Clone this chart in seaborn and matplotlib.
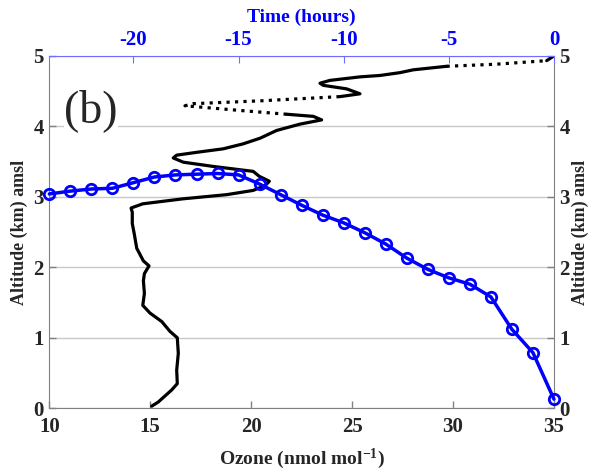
import matplotlib
matplotlib.use('Agg')
import matplotlib.pyplot as plt
import seaborn as sns

sns.set_style('white')
plt.rcParams['font.family'] = ['Liberation Serif', 'DejaVu Serif']
plt.rcParams['font.weight'] = 'bold'
plt.rcParams['axes.unicode_minus'] = False
plt.rcParams['mathtext.fontset'] = 'custom'
plt.rcParams['mathtext.rm'] = 'Liberation Serif:bold'
plt.rcParams['mathtext.it'] = 'Liberation Serif:bold'
plt.rcParams['mathtext.bf'] = 'Liberation Serif:bold'

# ozone profile (black), bottom to top
ozone = [15.07, 15.40, 16.06, 16.34, 16.31, 16.39, 16.34, 15.98, 15.57, 14.99,
         14.63, 14.71, 14.66, 14.71, 14.94, 14.66, 14.33, 14.21, 14.11, 14.11,
         14.05, 14.63, 16.60, 18.79, 20.10, 20.70, 20.90, 20.40, 20.10, 18.12,
         16.64, 16.14, 16.31, 17.30, 18.62, 19.60, 20.44, 21.26, 22.42, 23.49,
         23.08, 21.76, 19.61, 17.96, 16.72, 17.13, 20.44, 24.40, 25.39, 24.73,
         23.57, 23.41, 23.90, 25.39, 26.38, 27.37, 28.03, 29.68, 32.16, 34.64,
         34.96]
altitude = [0.03, 0.09, 0.26, 0.35, 0.54, 0.78, 1.00, 1.09, 1.23, 1.35,
            1.46, 1.63, 1.81, 1.91, 2.02, 2.09, 2.27, 2.47, 2.62, 2.78,
            2.84, 2.90, 2.97, 3.03, 3.09, 3.16, 3.22, 3.29, 3.36, 3.43,
            3.49, 3.55, 3.59, 3.63, 3.68, 3.75, 3.83, 3.94, 4.03, 4.09,
            4.14, 4.17, 4.22, 4.26, 4.29, 4.32, 4.36, 4.42, 4.46, 4.53,
            4.58, 4.61, 4.65, 4.70, 4.72, 4.76, 4.80, 4.85, 4.88, 4.93,
            4.99]
# (start, end, linestyle) pieces of the profile
pieces = [(0, 41, '-'), (41, 47, ':'), (47, 57, '-'), (57, 59, ':'), (59, 60, '-')]

# blue: hourly altitude vs time
time_h = [-24, -23, -22, -21, -20, -19, -18, -17, -16, -15, -14, -13, -12,
          -11, -10, -9, -8, -7, -6, -5, -4, -3, -2, -1, 0]
alt_time = [3.04, 3.08, 3.11, 3.12, 3.20, 3.28, 3.31, 3.32, 3.33, 3.31, 3.18,
            3.03, 2.88, 2.74, 2.63, 2.49, 2.33, 2.13, 1.97, 1.85, 1.76, 1.58,
            1.12, 0.79, 0.13]

ozone_ticks = [10, 15, 20, 25, 30, 35]
time_ticks = [-20, -15, -10, -5, 0]
alt_ticks = [0, 1, 2, 3, 4, 5]

fig = plt.figure(figsize=(5.95, 4.71), dpi=100)
ax = fig.add_axes([0.0829, 0.1331, 0.8481, 0.7486])

for s, e, ls in pieces:
    sns.lineplot(x=ozone[s:e + 1], y=altitude[s:e + 1], ax=ax, sort=False,
                 estimator=None, color='black', linewidth=2.3, linestyle=ls)

ax.set_xlim(10, 35)
ax.set_ylim(0, 5)
ax.set_xticks(ozone_ticks)
ax.set_yticks(alt_ticks)
ax.yaxis.grid(True, color='#c8c8c8', linewidth=1)
ax.xaxis.grid(False)
ax.tick_params(axis='both', direction='in', length=5, color='#808080',
               labelsize=15, width=1, pad=4)
ax.tick_params(axis='x', pad=6)
ax.tick_params(axis='y', right=True, labelright=True, left=True)
ax.tick_params(axis='x', bottom=True, top=False)
for name in ['left', 'bottom', 'right']:
    ax.spines[name].set_color('#808080')
ax.spines['top'].set_visible(False)
ax.set_xlabel('Ozone (nmol mol$^{-1}$)', fontsize=14, fontweight='bold', labelpad=7)
ax.set_ylabel('Altitude (km) amsl', fontsize=13, fontweight='bold', labelpad=4)

sec = ax.secondary_yaxis('right')
sec.set_yticks(alt_ticks)
sec.tick_params(length=0, labelright=False)
sec.spines['right'].set_visible(False)
sec.set_ylabel('Altitude (km) amsl', fontsize=13, fontweight='bold', labelpad=13)

ax.text(0.0826, 0.845, '(b)', transform=ax.transAxes, fontsize=33,
        fontweight='normal', ha='center', va='center',
        bbox=dict(facecolor='white', edgecolor='none', pad=0))

ax2 = ax.twiny()
sns.lineplot(x=time_h, y=alt_time, ax=ax2, sort=False, estimator=None,
             color='blue', linewidth=2.5, marker='o', markersize=7.5,
             markerfacecolor='none', markeredgecolor='blue',
             markeredgewidth=2, clip_on=False)
ax2.set_xlim(-24, 0)
ax2.set_ylim(0, 5)
ax2.set_xticks(time_ticks)
ax2.tick_params(axis='x', direction='in', length=5, color='#6f6fff',
                labelcolor='blue', labelsize=15, pad=4)
for name in ['left', 'bottom', 'right']:
    ax2.spines[name].set_visible(False)
ax2.spines['top'].set_color('#6f6fff')
ax2.set_xlabel('Time (hours)', fontsize=14, fontweight='bold', color='blue', labelpad=6)

fig.savefig('out.png', dpi=100)
